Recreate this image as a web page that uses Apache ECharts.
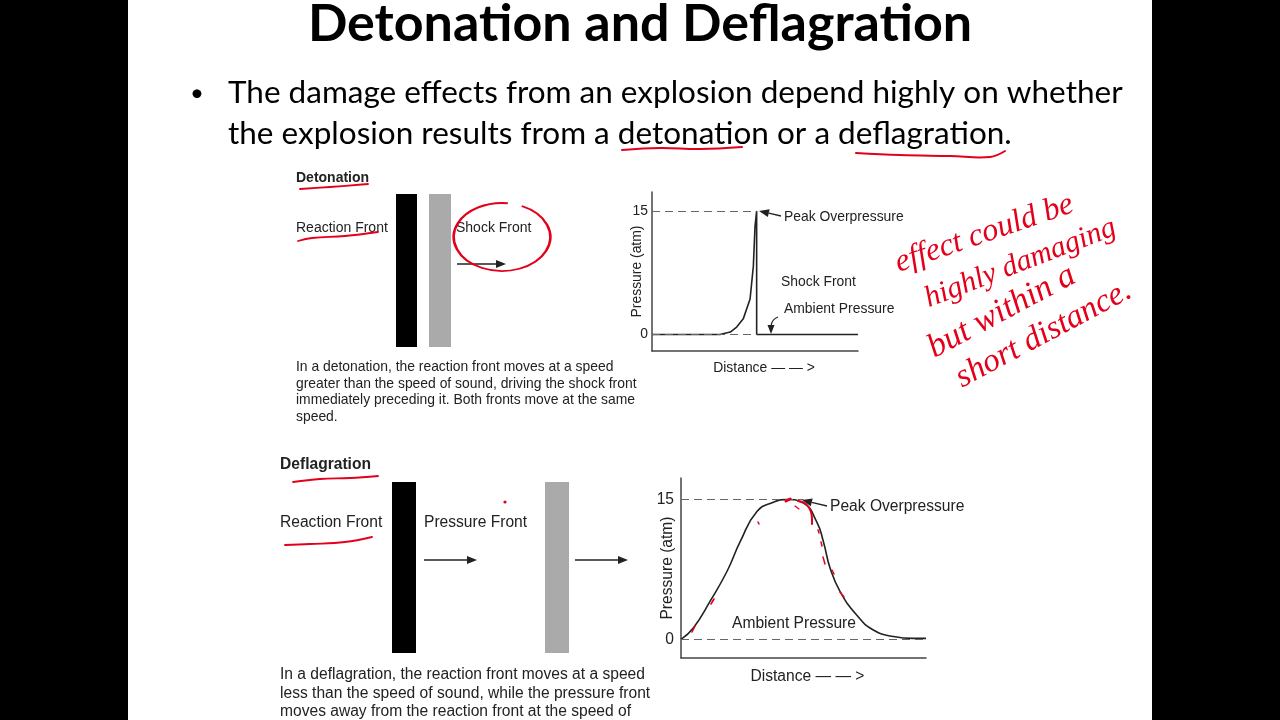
<!DOCTYPE html>
<html>
<head>
<meta charset="utf-8">
<title>Detonation and Deflagration</title>
<script src="https://cdn.jsdelivr.net/npm/echarts@6/dist/echarts.min.js"></script>
<style>
  html, body { margin: 0; padding: 0; background: #000; }
  .page { position: relative; width: 1280px; height: 720px; background: #000; overflow: hidden; }
  .paper { position: absolute; left: 128px; top: 0; width: 1024px; height: 720px; background: #fff; }
  #slide { position: absolute; left: 0; top: 0; width: 1280px; height: 720px; }
</style>
</head>
<body>
<div class="page">
  <div class="paper"></div>
  <div id="slide"></div>
</div>
<script>
// detonation: pressure vs distance (sharp shock front)
const detDistance = [0, 33, 38, 41.1, 44.3, 47.6, 49.2, 50, 50.8, 50.8, 100]
const detPressure = [0, 0, 0.3, 0.9, 1.9, 4.3, 8.3, 13.1, 15, 0, 0]
const detPeakLine = [0, 50.8]   // dashed 15 atm guide, x from..to
const detBaseLine = [0, 51]     // dashed 0 atm guide

// deflagration: pressure vs distance (smooth pulse)
const defDistance = [0, 5.1, 11.9, 18.8, 24.2, 31, 37.7, 43.2, 50, 55.4, 58.1, 60.9, 65, 71.7, 78.5, 86.7, 94.8, 100]
const defPressure = [0, 1.25, 4.1, 7.3, 10.5, 13.7, 14.7, 15, 14.6, 12.6, 10.5, 7.6, 5.1, 2.6, 1.0, 0.3, 0.1, 0.1]
const defPeakLine = [0, 50]
const defBaseLine = [0, 100]

const yTickLabels = [0, 15]
const peakLevel = 15

const INK = '#222'
const RED = '#e3001b'
const SANS = '"Liberation Sans", Arial, sans-serif'
const HAND = '"Liberation Serif", serif'

var chart = echarts.init(document.getElementById('slide'), null, { renderer: 'canvas' })

// ---- small helpers for the slide drawing ----
function txt(x, y, s, size, opt) {
  opt = opt || {}
  return {
    type: 'text',
    x: x, y: y,
    rotation: opt.rot || 0,
    z: 10,
    style: {
      text: s,
      fill: opt.color || INK,
      fontSize: size,
      fontFamily: opt.family || SANS,
      fontWeight: opt.bold ? 'bold' : 'normal',
      fontStyle: opt.italic ? 'italic' : 'normal',
      align: opt.align || 'left', textAlign: opt.align || 'left',
      verticalAlign: 'middle', textVerticalAlign: 'middle'
    }
  }
}

function poly(points, color, width) {
  return {
    type: 'polyline', z: 11,
    shape: { points: points, smooth: 0.4 },
    style: { stroke: color, lineWidth: width, fill: null, lineCap: 'round', lineJoin: 'round' }
  }
}

function arrow(x1, y1, x2, y2, color) {
  var dx = x2 - x1, dy = y2 - y1
  var len = Math.sqrt(dx * dx + dy * dy)
  var ux = dx / len, uy = dy / len
  var hl = 10, hw = 4
  var bx = x2 - ux * hl, by = y2 - uy * hl
  return [
    { type: 'line', z: 10, shape: { x1: x1, y1: y1, x2: bx, y2: by }, style: { stroke: color || INK, lineWidth: 1.3 } },
    { type: 'polygon', z: 10, shape: { points: [[x2, y2], [bx - uy * hw, by + ux * hw], [bx + uy * hw, by - ux * hw]] }, style: { fill: color || INK } }
  ]
}

function rect(x, y, w, h, color) {
  return { type: 'rect', z: 5, shape: { x: x, y: y, width: w, height: h }, style: { fill: color } }
}

var graphics = []

// title + bullet
graphics.push(txt(640, 24, 'Detonation and Deflagration', 52, { bold: true, align: 'center', family: 'Lato, "Open Sans", sans-serif', color: '#000' }))
graphics.push(txt(190, 93, '•', 24, { family: 'Lato, sans-serif', color: '#000' }))
graphics.push(txt(228, 93, 'The damage effects from an explosion depend highly on whether', 31.5, { family: 'Lato, sans-serif', color: '#000' }))
graphics.push(txt(228, 134, 'the explosion results from a detonation or a deflagration.', 31.5, { family: 'Lato, sans-serif', color: '#000' }))

// detonation diagram
graphics.push(txt(296, 178, 'Detonation', 14, { bold: true }))
graphics.push(txt(296, 228, 'Reaction Front', 14))
graphics.push(txt(456, 228, 'Shock Front', 14))
graphics.push(rect(396, 194, 21, 153, '#000'))
graphics.push(rect(429, 194, 22, 153, '#aaa'))
graphics = graphics.concat(arrow(457, 264, 506, 264))
var detCaption = [
  'In a detonation, the reaction front moves at a speed',
  'greater than the speed of sound, driving the shock front',
  'immediately preceding it. Both fronts move at the same',
  'speed.'
]
detCaption.forEach(function (s, i) { graphics.push(txt(296, 367 + i * 16.7, s, 13.9)) })

// deflagration diagram
graphics.push(txt(280, 465, 'Deflagration', 15.6, { bold: true }))
graphics.push(txt(280, 523, 'Reaction Front', 15.6))
graphics.push(txt(424, 523, 'Pressure Front', 15.6))
graphics.push(rect(392, 482, 24, 171, '#000'))
graphics.push(rect(545, 482, 24, 171, '#aaa'))
graphics = graphics.concat(arrow(424, 560, 477, 560), arrow(575, 560, 628, 560))
var defCaption = [
  'In a deflagration, the reaction front moves at a speed',
  'less than the speed of sound, while the pressure front',
  'moves away from the reaction front at the speed of'
]
defCaption.forEach(function (s, i) { graphics.push(txt(280, 675 + i * 18.3, s, 15.6)) })

// chart annotations
graphics.push(txt(784, 217, 'Peak Overpressure', 13.9))
graphics.push(txt(781, 282, 'Shock Front', 13.9))
graphics.push(txt(784, 309, 'Ambient Pressure', 13.9))
graphics = graphics.concat(arrow(781, 216, 759, 211))
graphics.push({ type: 'bezierCurve', z: 10, shape: { x1: 778, y1: 317, cpx1: 772, cpy1: 319, x2: 771, y2: 326 }, style: { stroke: INK, lineWidth: 1.2, fill: null } })
graphics.push({ type: 'polygon', z: 10, shape: { points: [[771, 334], [767.5, 325], [774.5, 325]] }, style: { fill: INK } })

graphics.push(txt(830, 507, 'Peak Overpressure', 15.6))
graphics.push(txt(794, 624, 'Ambient Pressure', 15.6, { align: 'center' }))
graphics = graphics.concat(arrow(827, 506, 802, 500))

// handwritten red notes
graphics.push(poly([[622, 150], [660, 148], [700, 149], [742, 147]], RED, 2))
graphics.push(poly([[856, 153], [900, 155], [950, 156], [990, 157], [1005, 151]], RED, 2))
graphics.push(poly([[300, 189], [330, 187], [368, 184]], RED, 1.8))
graphics.push(poly([[298, 241], [312, 238], [345, 236], [378, 232]], RED, 1.8))
graphics.push({
  type: 'arc', z: 11, x: 502, y: 237, scaleX: 1.42,
  shape: { cx: 0, cy: 0, r: 34, startAngle: -1.15, endAngle: -1.45, clockwise: true },
  style: { stroke: RED, lineWidth: 1.8, fill: null }
})
graphics.push(poly([[293, 482], [320, 479], [350, 478], [378, 476]], RED, 1.8))
graphics.push(poly([[285, 545], [310, 544], [345, 542], [372, 537]], RED, 1.8))
graphics.push({ type: 'circle', z: 11, shape: { cx: 505, cy: 502, r: 1.6 }, style: { fill: RED } })
graphics.push(poly([[786, 501], [790, 499]], RED, 3))
graphics.push(poly([[798, 501], [806, 504], [811, 512], [812, 524]], RED, 2))
graphics.push(poly([[795, 506], [799, 509]], RED, 1.2))
graphics.push(poly([[818, 530], [819, 533]], RED, 1.5))
graphics.push(poly([[821, 542], [822, 546]], RED, 1.5))
graphics.push(poly([[823, 557], [825, 564]], RED, 1.5))
graphics.push(poly([[832, 570], [834, 574]], RED, 1.5))
graphics.push(poly([[840, 592], [844, 597]], RED, 1.5))
graphics.push(poly([[692, 632], [695, 626]], RED, 1.6))
graphics.push(poly([[711, 604], [714, 599]], RED, 1.6))
graphics.push(poly([[758, 522], [759, 524]], RED, 1.5))

graphics.push(txt(896, 264, 'effect could be', 32, { italic: true, color: RED, family: HAND, rot: 0.33 }))
graphics.push(txt(926, 300, 'highly damaging', 30, { italic: true, color: RED, family: HAND, rot: 0.37 }))
graphics.push(txt(930, 350, 'but within a', 34, { italic: true, color: RED, family: HAND, rot: 0.49 }))
graphics.push(txt(958, 380, 'short distance.', 33, { italic: true, color: RED, family: HAND, rot: 0.49 }))

// ---- axes ----
function xAx(grid, gap, size, pad) {
  return {
    gridIndex: grid, type: 'value', min: 0, max: 100,
    name: 'Distance — — >', nameLocation: 'middle', nameGap: gap, nameMoveOverlap: false,
    nameTextStyle: { color: INK, fontSize: size, fontFamily: SANS, padding: [0, 0, 0, pad] },
    axisLine: { show: true, onZero: false, lineStyle: { color: '#444', width: 1.5 } },
    axisTick: { show: false }, axisLabel: { show: false }, splitLine: { show: false }
  }
}

function yAx(grid, max, gap, size, margin) {
  return {
    gridIndex: grid, type: 'value', min: -2, max: max, interval: 1,
    name: 'Pressure (atm)', nameLocation: 'middle', nameGap: gap, nameRotate: 90, nameMoveOverlap: false,
    nameTextStyle: { color: INK, fontSize: size, fontFamily: SANS },
    axisLine: { show: true, onZero: false, lineStyle: { color: '#444', width: 1.5 } },
    axisTick: { show: false }, splitLine: { show: false },
    axisLabel: {
      show: true, margin: margin, color: INK, fontSize: size, fontFamily: SANS,
      showMinLabel: true, showMaxLabel: true,
      formatter: function (v) { return yTickLabels.indexOf(v) >= 0 ? String(v) : '' }
    }
  }
}

function dashed(from, to, level) {
  return [{ coord: [from, level] }, { coord: [to, level] }]
}

var guideStyle = { color: '#666', type: [8, 5], width: 1.2 }

var option = {
  animation: false,
  grid: [
    { left: 652, top: 192, width: 206, height: 159 },
    { left: 681, top: 478, width: 245, height: 180 }
  ],
  xAxis: [xAx(0, 10, 13.9, 18), xAx(1, 11, 15.6, 8)],
  yAxis: [yAx(0, 17.3, 8, 13.9, 4), yAx(1, 17.3, 5, 15.6, 7)],
  series: [
    {
      type: 'line', xAxisIndex: 0, yAxisIndex: 0, symbol: 'none', z: 3,
      data: detDistance.map(function (d, i) { return [d, detPressure[i]] }),
      lineStyle: { color: INK, width: 1.6 },
      markLine: {
        silent: true, symbol: 'none', label: { show: false }, lineStyle: guideStyle,
        data: [dashed(detPeakLine[0], detPeakLine[1], peakLevel), dashed(detBaseLine[0], detBaseLine[1], 0)]
      }
    },
    {
      type: 'line', xAxisIndex: 1, yAxisIndex: 1, symbol: 'none', smooth: true, z: 3,
      data: defDistance.map(function (d, i) { return [d, defPressure[i]] }),
      lineStyle: { color: INK, width: 1.6 },
      markLine: {
        silent: true, symbol: 'none', label: { show: false }, lineStyle: guideStyle,
        data: [dashed(defPeakLine[0], defPeakLine[1], peakLevel), dashed(defBaseLine[0], defBaseLine[1], 0)]
      }
    }
  ],
  graphic: graphics
}

chart.setOption(option)
</script>
</body>
</html>
